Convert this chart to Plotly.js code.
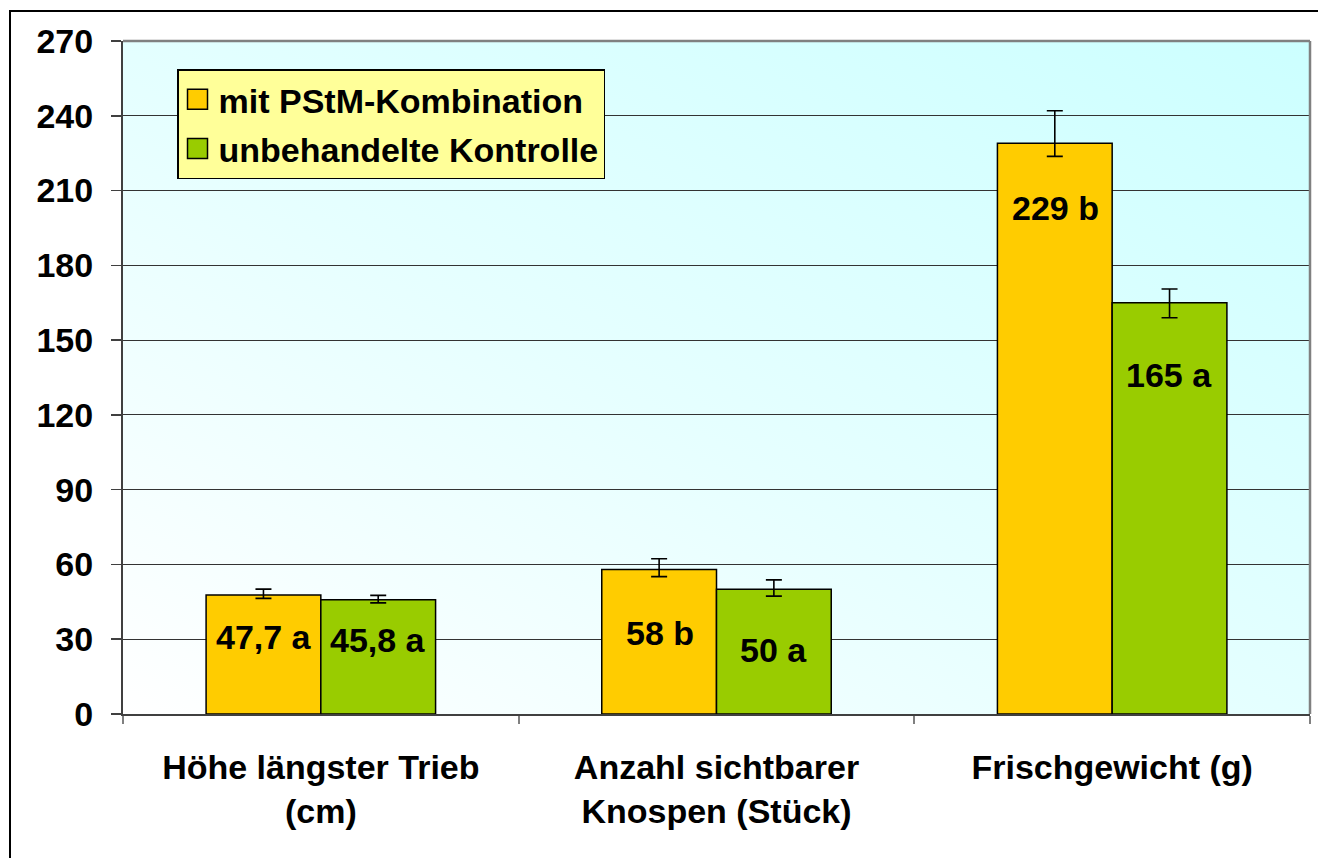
<!DOCTYPE html>
<html>
<head>
<meta charset="utf-8">
<script src="https://cdn.plot.ly/plotly-3.0.1.min.js"></script>
<style>
  html, body { margin: 0; padding: 0; background: #ffffff; overflow: hidden; }
  #frame { position: absolute; left: 9px; top: 10px; width: 1400px; height: 900px; border-left: 2px solid #000; border-top: 2px solid #000; }
  #bg { position: absolute; left: 123px; top: 41px; width: 1187px; height: 673px;
        background: linear-gradient(to top right, #ffffff 0%, #e6ffff 45%, #ccffff 100%); }
  #chart { position: absolute; left: 0; top: 0; width: 1318px; height: 858px; }
</style>
</head>
<body>
<div id="frame"></div>
<div id="bg"></div>
<div id="chart"></div>
<script>
// ---- data ----
const categories = ["Höhe längster Trieb<br>(cm)", "Anzahl sichtbarer<br>Knospen (Stück)", "Frischgewicht (g)"];
const seriesNames = ["mit PStM-Kombination", "unbehandelte Kontrolle"];
const treatedValues = [47.7, 58, 229];
const controlValues = [45.8, 50, 165];
const treatedErrPlus = [2.4, 4.3, 13.0];
const treatedErrMinus = [1.3, 2.9, 5.3];
const controlErrPlus = [1.8, 3.8, 5.5];
const controlErrMinus = [1.2, 2.7, 6.0];
const treatedLabels = ["47,7 a", "58 b", "229 b"];
const controlLabels = ["45,8 a", "50 a", "165 a"];
const yTickValues = [0, 30, 60, 90, 120, 150, 180, 210, 240, 270];

// ---- drawing ----
const FONT = "Liberation Sans, Arial, sans-serif";
const FS = 34;
const barLine = { color: "#000000", width: 1.5 };
const errStyle = { color: "#000000", thickness: 1.6, width: 8 };

const traces = [
  {
    type: "bar", name: seriesNames[0], x: categories, y: treatedValues,
    marker: { color: "#FFCC00", line: barLine },
    error_y: Object.assign({ type: "data", symmetric: false, array: treatedErrPlus, arrayminus: treatedErrMinus }, errStyle),
    legendgroup: "a", hoverinfo: "skip"
  },
  {
    type: "bar", name: seriesNames[1], x: categories, y: controlValues,
    marker: { color: "#99CC00", line: barLine },
    error_y: Object.assign({ type: "data", symmetric: false, array: controlErrPlus, arrayminus: controlErrMinus }, errStyle),
    legendgroup: "b", hoverinfo: "skip"
  }
];

// label placement (layout only): drop below bar top, in axis units
const treatedDrop = [16.8, 25.5, 26];
const controlDrop = [16, 24.3, 29];
const annotations = [];
categories.forEach((c, i) => {
  annotations.push({ x: c, y: treatedValues[i] - treatedDrop[i], xref: "x", yref: "y", text: "<b>" + treatedLabels[i] + "</b>",
    showarrow: false, xshift: -57, font: { family: FONT, size: FS, color: "#000" } });
  annotations.push({ x: c, y: controlValues[i] - controlDrop[i], xref: "x", yref: "y", text: "<b>" + controlLabels[i] + "</b>",
    showarrow: false, xshift: 57, font: { family: FONT, size: FS, color: "#000" } });
});

const layout = {
  width: 1318, height: 858,
  margin: { l: 123, r: 8, t: 41, b: 144, pad: 0 },
  paper_bgcolor: "rgba(0,0,0,0)", plot_bgcolor: "rgba(0,0,0,0)",
  font: { family: FONT, color: "#000" },
  barmode: "group", bargap: 0.42, bargroupgap: 0,
  showlegend: true,
  legend: {
    x: 0.0455, y: 0.958, xanchor: "left", yanchor: "top",
    bgcolor: "#FFFF99", bordercolor: "#000", borderwidth: 1.5,
    font: { family: FONT, size: FS, color: "#000", weight: "bold" },
    traceorder: "grouped", tracegroupgap: 2, itemwidth: 30
  },
  xaxis: {
    type: "category", showgrid: false, zeroline: false,
    showline: true, linecolor: "#404040", linewidth: 2,
    ticks: "outside", tickson: "boundaries", ticklen: 8, tickcolor: "#808080", tickwidth: 2,
    tickfont: { family: FONT, size: FS, color: "#000", weight: "bold" },
    ticklabelstandoff: 22
  },
  yaxis: {
    range: [0, 270], tickvals: yTickValues, ticktext: yTickValues.map(String),
    showgrid: true, gridcolor: "#333333", gridwidth: 1, zeroline: false,
    showline: true, linecolor: "#404040", linewidth: 2,
    ticks: "outside", ticklen: 10, tickcolor: "#404040", tickwidth: 1.5,
    tickfont: { family: FONT, size: FS, color: "#000", weight: "bold" },
    ticklabelstandoff: 11
  },
  shapes: [
    { type: "line", xref: "paper", yref: "paper", x0: 0, x1: 1, y0: 1, y1: 1, line: { color: "#808080", width: 2.5 } },
    { type: "line", xref: "paper", yref: "paper", x0: 1, x1: 1, y0: 0, y1: 1, line: { color: "#808080", width: 2.5 } }
  ],
  annotations: annotations
};

Plotly.newPlot("chart", traces, layout, { staticPlot: true, displayModeBar: false }).then(() => {
  // enlarge legend swatches to match the reference's larger squares
  document.querySelectorAll("#chart .legend .legendpoints path").forEach(p => {
    p.setAttribute("d", "M10,10H-10V-10H10Z");
    p.setAttribute("transform", "translate(19,0)");
    p.style.strokeWidth = "1.5px";
    p.style.stroke = "#000";
  });
});
</script>
</body>
</html>
